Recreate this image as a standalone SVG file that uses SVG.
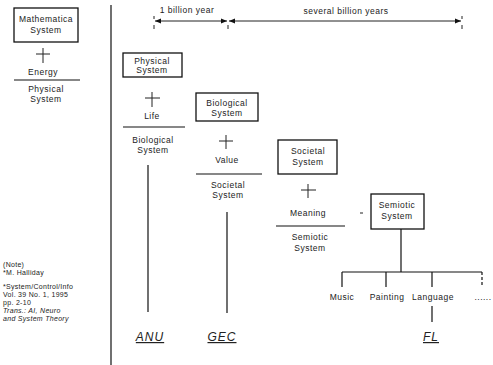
<svg xmlns="http://www.w3.org/2000/svg" width="493" height="365" viewBox="0 0 493 365">
<defs>
<style>
text{font-family:"Liberation Sans",Arial,sans-serif;font-size:8.5px;fill:#222;text-anchor:middle;letter-spacing:0.5px}
.note{text-anchor:start;font-size:7px;letter-spacing:0.3px}
.it{font-style:italic}
.big{font-size:12px;font-style:italic;text-decoration:underline;letter-spacing:1px}
.box{fill:#fff;stroke:#111;stroke-width:1.3}
.ln{stroke:#111;stroke-width:1.2;fill:none}
.thin{stroke:#222;stroke-width:1;fill:none}
</style>
<marker id="ah" viewBox="0 0 10 10" refX="10" refY="5" markerWidth="6" markerHeight="6" orient="auto-start-reverse"><path d="M0,1 L10,5 L0,9 z" fill="#111"/></marker>
</defs>
<rect width="493" height="365" fill="#fff"/>

<g id="connectors">
<line class="ln" x1="111" y1="5" x2="111" y2="365"/>
<line class="thin" x1="155" y1="21" x2="227" y2="21" marker-start="url(#ah)" marker-end="url(#ah)"/>
<line class="thin" x1="229" y1="21" x2="461" y2="21" marker-start="url(#ah)" marker-end="url(#ah)"/>
<line class="thin" x1="154" y1="16" x2="154" y2="19"/><line class="thin" x1="154" y1="25" x2="154" y2="29"/>
<line class="thin" x1="228" y1="25" x2="228" y2="29"/>
<line class="thin" x1="462" y1="16" x2="462" y2="19"/><line class="thin" x1="462" y1="25" x2="462" y2="29"/>
<line class="thin" x1="36" y1="54" x2="50" y2="54"/><line class="thin" x1="43" y1="48" x2="43" y2="63"/>
<line class="ln" x1="14" y1="80" x2="80" y2="80"/>
<line class="thin" x1="145" y1="98" x2="160" y2="98"/><line class="thin" x1="152" y1="92" x2="152" y2="107"/>
<line class="ln" x1="123" y1="127" x2="185" y2="127"/>
<line class="ln" x1="148" y1="165" x2="148" y2="312"/>
<line class="thin" x1="219" y1="141" x2="233" y2="141"/><line class="thin" x1="226" y1="135" x2="226" y2="149"/>
<line class="ln" x1="196" y1="174" x2="262" y2="174"/>
<line class="ln" x1="227" y1="212" x2="227" y2="313"/>
<line class="thin" x1="301" y1="190" x2="316" y2="190"/><line class="thin" x1="308" y1="184" x2="308" y2="198"/>
<line class="ln" x1="276" y1="226" x2="345" y2="226"/>
<line class="thin" x1="360" y1="213" x2="363" y2="213"/>
<line class="ln" x1="401" y1="229" x2="401" y2="272"/>
<line class="ln" x1="342" y1="272" x2="482" y2="272"/>
<line class="ln" x1="342" y1="272" x2="342" y2="287"/>
<line class="ln" x1="386" y1="272" x2="386" y2="287"/>
<line class="ln" x1="432" y1="272" x2="432" y2="287"/>
<line class="ln" x1="482" y1="272" x2="482" y2="287" stroke-dasharray="3,2"/>
<line class="ln" x1="432" y1="306" x2="432" y2="322"/>
</g>

<g id="timeline-labels">
<text x="187" y="13">1 billion year</text>
<text x="346" y="14">several billion years</text>
</g>

<g id="mathematica">
<rect class="box" x="14" y="8" width="64" height="34"/>
<text x="46" y="22">Mathematica</text>
<text x="46" y="33">System</text>
</g>
<g id="energy"><text x="43" y="75">Energy</text></g>
<g id="physical-left"><text x="46" y="92">Physical</text><text x="46" y="102">System</text></g>

<g id="physical">
<rect class="box" x="123" y="53" width="59" height="24"/>
<text x="152" y="64">Physical</text>
<text x="152" y="73">System</text>
</g>
<g id="life"><text x="152" y="119">Life</text></g>
<g id="biological-lower"><text x="153" y="143">Biological</text><text x="153" y="153">System</text></g>

<g id="biological">
<rect class="box" x="196" y="93" width="62" height="28"/>
<text x="227" y="106">Biological</text>
<text x="227" y="116">System</text>
</g>
<g id="value"><text x="227" y="163">Value</text></g>
<g id="societal-lower"><text x="228" y="188">Societal</text><text x="228" y="198">System</text></g>

<g id="societal">
<rect class="box" x="278" y="140" width="59" height="34"/>
<text x="308" y="154">Societal</text>
<text x="308" y="165">System</text>
</g>
<g id="meaning"><text x="308" y="216">Meaning</text></g>
<g id="semiotic-lower"><text x="310" y="240">Semiotic</text><text x="310" y="251">System</text></g>

<g id="semiotic">
<rect class="box" x="371" y="194" width="53" height="35"/>
<text x="397" y="208">Semiotic</text>
<text x="397" y="219">System</text>
</g>

<g id="music"><text x="342" y="300">Music</text></g>
<g id="painting"><text x="387" y="300">Painting</text></g>
<g id="language"><text x="433" y="300">Language</text></g>
<g id="etc"><text x="483" y="300">......</text></g>

<g id="anu"><text class="big" x="150" y="341">ANU</text></g>
<g id="gec"><text class="big" x="222" y="341">GEC</text></g>
<g id="fl"><text class="big" x="431" y="341">FL</text></g>

<g id="notes">
<text class="note" x="3" y="267">(Note)</text>
<text class="note" x="3" y="275">*M. Halliday</text>
<text class="note" x="3" y="289">*System/Control/Info</text>
<text class="note" x="3" y="297">Vol. 39 No. 1, 1995</text>
<text class="note" x="3" y="305">pp. 2-10</text>
<text class="note it" x="3" y="313">Trans.: AI, Neuro</text>
<text class="note it" x="3" y="321">and System Theory</text>
</g>
</svg>
